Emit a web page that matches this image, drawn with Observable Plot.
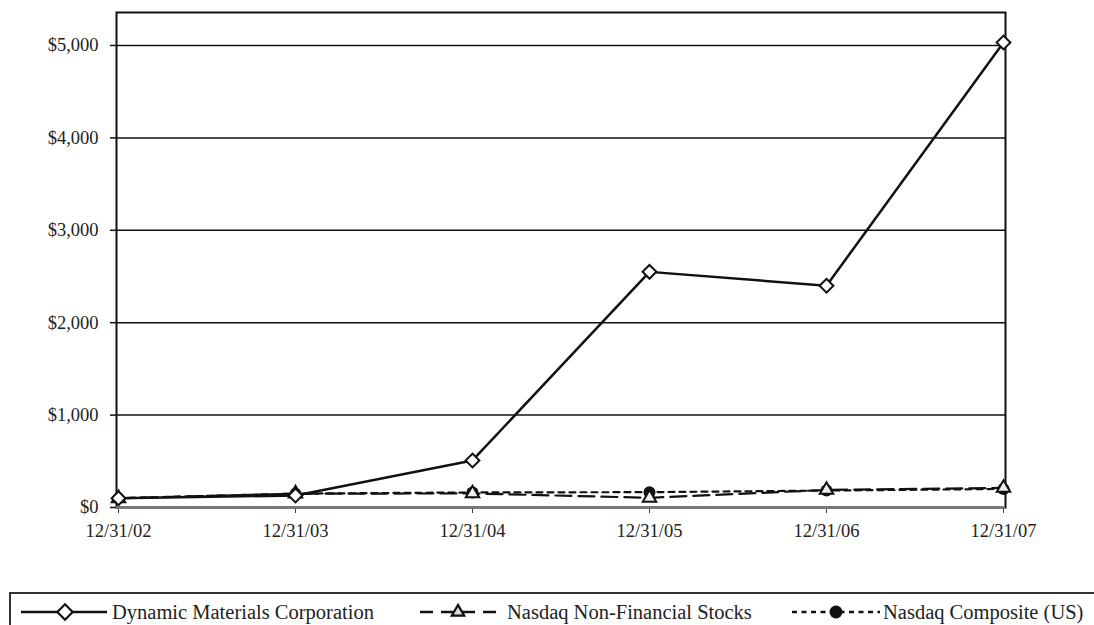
<!DOCTYPE html>
<html>
<head>
<meta charset="utf-8">
<script src="https://cdn.jsdelivr.net/npm/d3@7"></script>
<script src="https://cdn.jsdelivr.net/npm/@observablehq/plot@0.6"></script>
<style>
  html, body { margin: 0; padding: 0; background: #fff; }
  #wrap { position: relative; width: 1094px; height: 625px; font-family: "Liberation Serif", "DejaVu Serif", serif; }
  #legend { position: absolute; left: 9px; top: 592px; width: 1085px; height: 33px; border-top: 2px solid #333; border-left: 2px solid #333; box-sizing: border-box; }
  svg text { font-family: "Liberation Serif", "DejaVu Serif", serif !important; }
</style>
</head>
<body>
<div id="wrap">
  <div id="chart"></div>
  <div id="legend"></div>
</div>
<script>
const dates = ["12/31/02", "12/31/03", "12/31/04", "12/31/05", "12/31/06", "12/31/07"];
const seriesNames = ["Dynamic Materials Corporation", "Nasdaq Non-Financial Stocks", "Nasdaq Composite (US)"];
const dmc = [100, 130, 509, 2550, 2400, 5032];
const nonFinancial = [100, 150, 152, 105, 190, 212];
const composite = [100, 150, 163, 166, 183, 201];
const yTicks = [0, 1000, 2000, 3000, 4000, 5000];

const rows = (vals) => dates.map((d, i) => ({date: d, value: vals[i]}));
const dmcRows = rows(dmc), nfRows = rows(nonFinancial), compRows = rows(composite);

const fmt = v => "$" + d3.format(",")(v);

const chart = Plot.plot({
  width: 1094,
  height: 560,
  marginTop: 12,
  marginBottom: 53,
  marginLeft: 116,
  marginRight: 89,
  style: {fontFamily: "Liberation Serif, DejaVu Serif, serif", fontSize: "18.5px", color: "#222", background: "#fff"},
  x: {type: "point", domain: dates, padding: 0, label: null},
  y: {domain: [0, 5357], label: null},
  marks: [
    Plot.ruleY(yTicks.slice(1), {stroke: "#111", strokeWidth: 1.5}),
    Plot.frame({stroke: "#111", strokeWidth: 2}),
    Plot.axisY(yTicks, {tickFormat: fmt, tickSize: 6, tickPadding: 12, stroke: "#111", strokeWidth: 1.5, fontSize: 18.5, fill: "#222"}),
    Plot.axisX({tickSize: 6, tickPadding: 10, stroke: "#444", fontSize: 18.5, fill: "#222"}),
    Plot.ruleY([0], {stroke: "#777", strokeWidth: 2.5}),
    Plot.line(compRows, {x: "date", y: "value", stroke: "#111", strokeWidth: 2.2, strokeDasharray: "6,5"}),
    Plot.line(nfRows, {x: "date", y: "value", stroke: "#111", strokeWidth: 2.2, strokeDasharray: "16,7"}),
    Plot.line(dmcRows, {x: "date", y: "value", stroke: "#111", strokeWidth: 2.5}),
    Plot.dot(compRows, {x: "date", y: "value", r: 6, fill: "#111", stroke: "none"}),
    Plot.dot(nfRows, {x: "date", y: "value", symbol: "triangle", r: 5, fill: "#eee", stroke: "#111", strokeWidth: 2}),
    Plot.dot(dmcRows, {x: "date", y: "value", symbol: "square", rotate: 45, r: 5.5, fill: "#fff", stroke: "#111", strokeWidth: 2})
  ]
});
document.getElementById("chart").appendChild(chart);

// Legend
const lg = d3.select("#legend").append("svg").attr("width", 1083).attr("height", 31)
  .style("display", "block");
const cy = 18;
const off = -11;
const fs = 20.5;
lg.append("line").attr("x1", 21 + off).attr("x2", 107 + off).attr("y1", cy).attr("y2", cy).attr("stroke", "#111").attr("stroke-width", 2.5);
lg.append("path").attr("d", d3.symbol(d3.symbolDiamond2, 150)()).attr("transform", `translate(${65 + off},${cy})`).attr("fill", "#fff").attr("stroke", "#111").attr("stroke-width", 2.2);
lg.append("text").attr("x", 112 + off).attr("y", cy).attr("dy", "0.35em").attr("font-size", fs).attr("fill", "#222").text(seriesNames[0]);
lg.append("line").attr("x1", 420 + off).attr("x2", 500 + off).attr("y1", cy).attr("y2", cy).attr("stroke", "#111").attr("stroke-width", 2.5).attr("stroke-dasharray", "13,8");
lg.append("path").attr("d", d3.symbol(d3.symbolTriangle2, 110)()).attr("transform", `translate(${458 + off},${cy})`).attr("fill", "#ddd").attr("stroke", "#111").attr("stroke-width", 2.2);
lg.append("text").attr("x", 507 + off).attr("y", cy).attr("dy", "0.35em").attr("font-size", fs).attr("fill", "#222").text(seriesNames[1]);
lg.append("line").attr("x1", 792 + off).attr("x2", 880 + off).attr("y1", cy).attr("y2", cy).attr("stroke", "#111").attr("stroke-width", 2.5).attr("stroke-dasharray", "5,4.5");
lg.append("circle").attr("cx", 836 + off).attr("cy", cy).attr("r", 6.5).attr("fill", "#111");
lg.append("text").attr("x", 883 + off).attr("y", cy).attr("dy", "0.35em").attr("font-size", fs).attr("fill", "#222").text(seriesNames[2]);
</script>
</body>
</html>
